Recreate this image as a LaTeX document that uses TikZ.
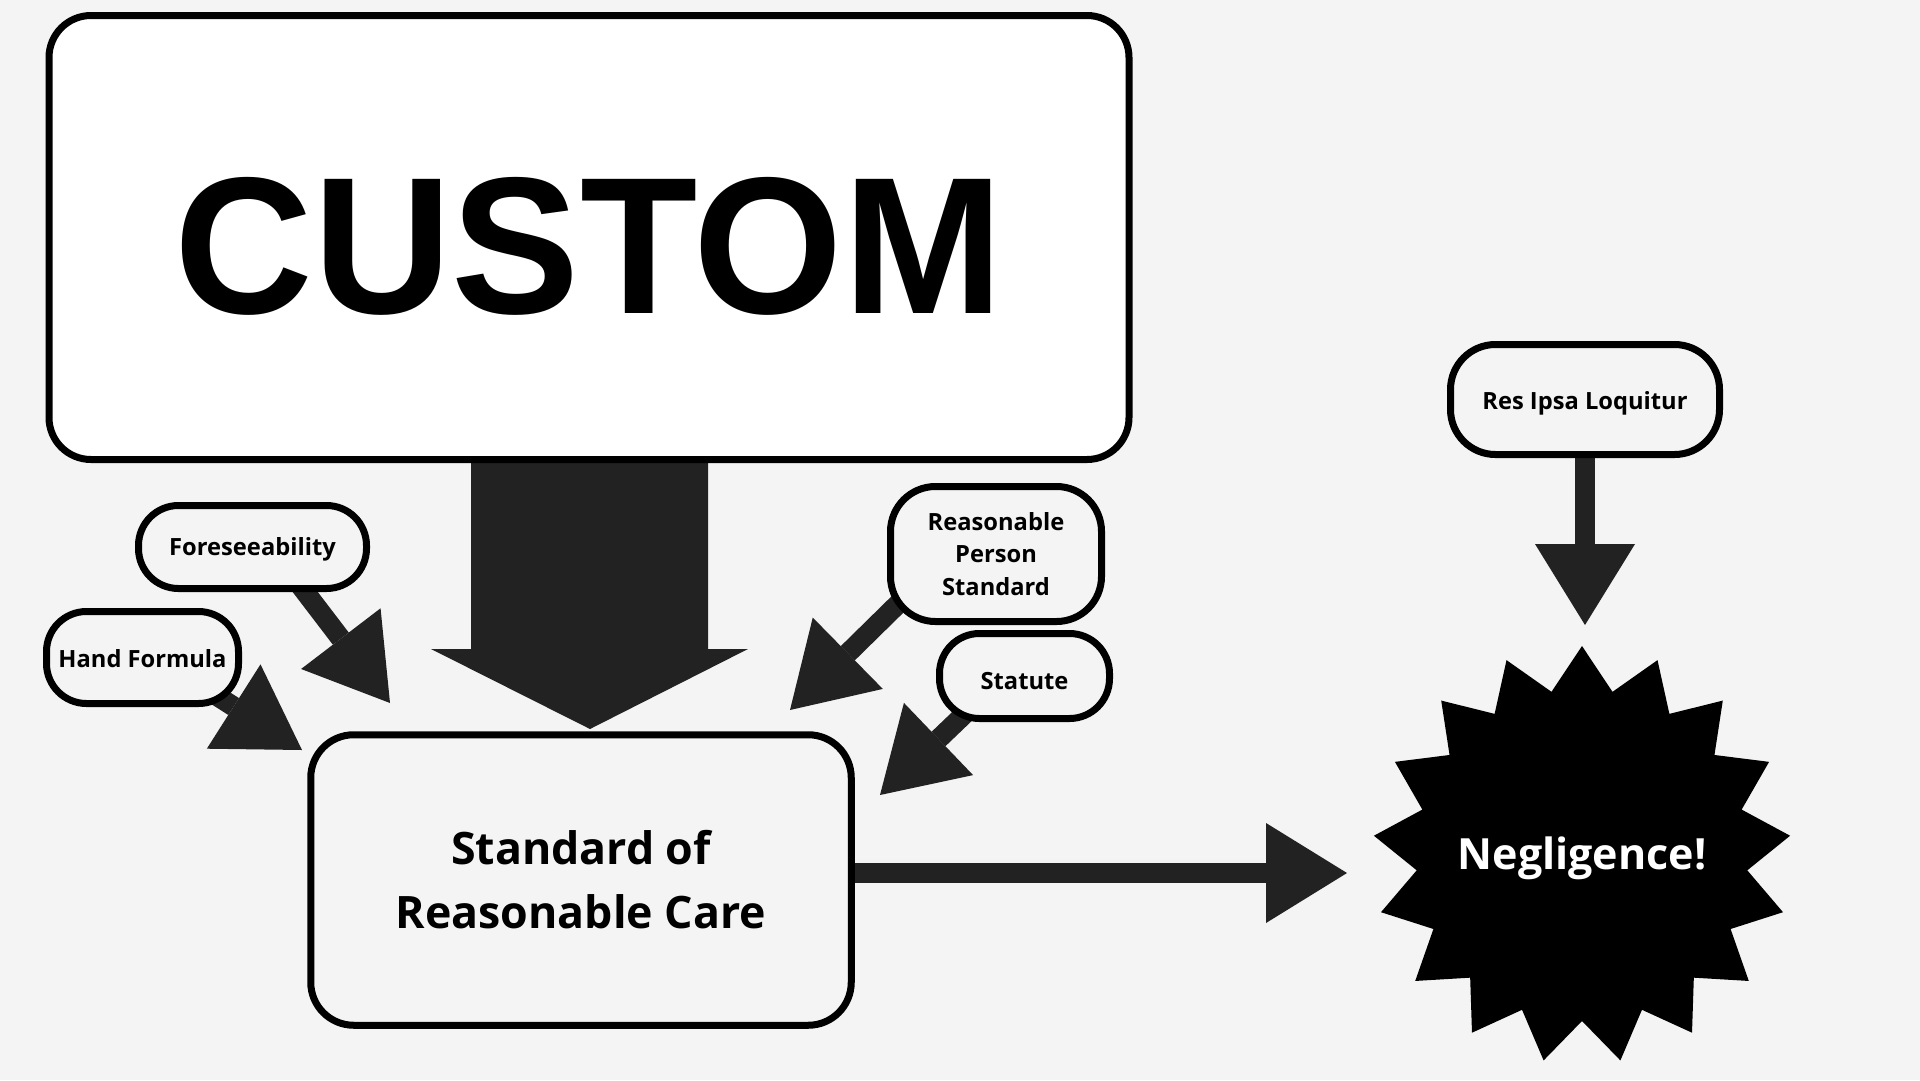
\documentclass[tikz,border=0pt]{standalone}
\usepackage{fontspec}
\setmainfont{Open Sans}
\newfontfamily\customfont{Liberation Sans}[FakeStretch=0.985]
\usetikzlibrary{arrows.meta}
\pgfdeclarelayer{bg}
\pgfdeclarelayer{back}
\pgfsetlayers{bg,back,main}
\definecolor{bgc}{HTML}{F4F4F4}
\definecolor{arr}{HTML}{222222}
\begin{document}
\begin{tikzpicture}[x=1pt,y=-1pt,
  box/.style={draw=black, line width=7pt, fill=bgc, inner sep=0pt, align=center},
  pill/.style={box, rounded corners=40pt, font=\fontsize{23.7}{32.5}\selectfont\bfseries},
  conn/.style={color=arr, line width=20pt, -{Triangle[length=81pt,width=100pt,line width=0pt]}},
]
\useasboundingbox (0,0) rectangle (1920,1080);
\begin{pgfonlayer}{bg}
\fill[bgc] (0,0) rectangle (1920,1080);
\end{pgfonlayer}

% nodes
\node[box, fill=white, rounded corners=42pt, minimum width=1080pt, minimum height=444pt] (custom) at (589,237.5) {};
\node[inner sep=0pt, anchor=base, font=\customfont\bfseries\fontsize{195}{195}\selectfont] (customtext) at (589,313) {CUSTOM};
\node[box, rounded corners=43pt, minimum width=540.5pt, minimum height=290.5pt,
  font=\fontsize{44.7}{64}\selectfont\bfseries] (std) at (581,880) {Standard of\\Reasonable Care};
\node[pill, minimum width=228pt, minimum height=83pt, text height=16pt, text depth=0pt] (fore) at (252.5,547) {Foreseeability};
\node[pill, minimum width=192pt, minimum height=92pt, text height=19pt, text depth=0pt] (hand) at (142.5,657.5) {Hand Formula};
\node[pill, rounded corners=45pt, minimum width=211pt, minimum height=135pt] (rps) at (996,554) {Reasonable\\Person\\Standard};
\node[pill, minimum width=170pt, minimum height=85pt, text height=27pt, text depth=0pt] (stat) at (1024.5,676) {Statute};
\node[pill, rounded corners=45pt, minimum width=269pt, minimum height=110pt, text height=19pt, text depth=0pt] (res) at (1585,399.5) {Res Ipsa Loquitur};
\node[inner sep=0pt, text=white, text height=28pt, text depth=0pt, font=\fontsize{43}{43}\selectfont\bfseries] (neg) at (1582,855) {Negligence!};

% arrow tips (free ends)
\coordinate (tfore) at (390,703);
\coordinate (thand) at (302,750);
\coordinate (trps) at (790,710);
\coordinate (tstat) at (880,795);
\coordinate (tres) at (1585,625);
\coordinate (tneg) at (1347,873);

\begin{pgfonlayer}{back}
% starburst
\fill[black, shift={(neg.center)}] (270:209)
  \foreach \k in {1,...,33} { -- ({270+\k*360/34}:{ifthenelse(isodd(\k),166,209)}) } -- cycle;
% big arrow from CUSTOM
\fill[arr] ([shift={(-118,-5)}]custom.south) -- ([shift={(119,-5)}]custom.south)
  -- (708,649) -- (748,649) -- (590,729) -- (431,649) -- (471,649) -- cycle;
% connectors
\draw[conn] ([shift={(40.5,29)}]fore.center) -- (tfore);
\draw[conn] ([shift={(49.5,22.5)}]hand.center) -- (thand);
\draw[conn] ([shift={(-77.7,30)}]rps.center) -- (trps);
\draw[conn] ([shift={(-29,8.4)}]stat.center) -- (tstat);
\draw[conn] (res.center) -- (tres);
\draw[conn] ([shift={(0,-7)}]std.center) -- (tneg);
\end{pgfonlayer}
\end{tikzpicture}
\end{document}
